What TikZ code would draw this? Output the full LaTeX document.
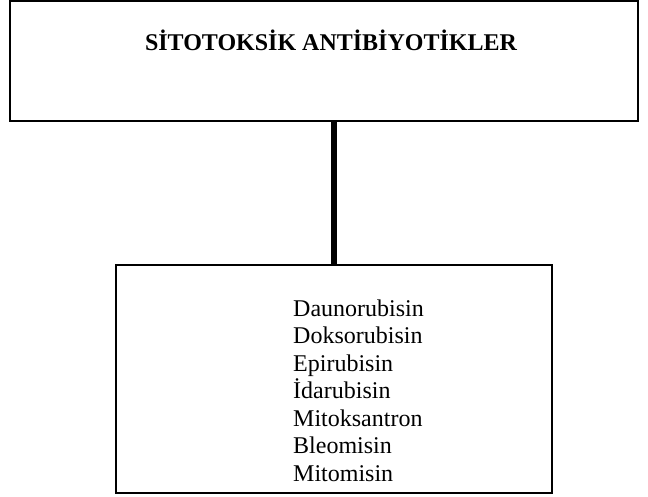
\documentclass[tikz,border=0pt]{standalone}
\usepackage{fontspec}
\setmainfont{Liberation Serif}
\usepackage{tikz}
\usetikzlibrary{positioning,calc}
\tikzset{
  groupbox/.style={
    rectangle, draw=black, line width=2pt, inner sep=0pt,
    minimum width=#1
  },
  groupbox/.default=436pt,
  titletext/.style={
    font=\fontsize{24}{28}\selectfont\bfseries, anchor=base, inner sep=0pt
  },
  drugtext/.style={
    font=\fontsize{24}{28}\selectfont, anchor=base west, inner sep=0pt
  },
  stemline/.style={
    line width=6pt, color=black
  },
}

\begin{document}
\begin{tikzpicture}[x=1pt, y=1pt]
  \useasboundingbox (0,0) rectangle (648,-497);

  % Top box
  \node[groupbox=628pt, minimum height=120pt] (top) at (324,-61) {};
  \node[titletext] (title) at (331,-51) {SİTOTOKSİK ANTİBİYOTİKLER};

  % Bottom box
  \node[groupbox, minimum height=228pt] (drugs) at (334,-379) {};

  % Drug names
  \foreach \name [count=\i] in {Daunorubisin, Doksorubisin, Epirubisin,
      İdarubisin, Mitoksantron, Bleomisin, Mitomisin}
    \node[drugtext] (drug\i) at (293,{-316-27.5*(\i-1)}) {\name};

  % Connector
  \draw[stemline] (drugs.north) -- (drugs.north |- top.south);
\end{tikzpicture}
\end{document}
